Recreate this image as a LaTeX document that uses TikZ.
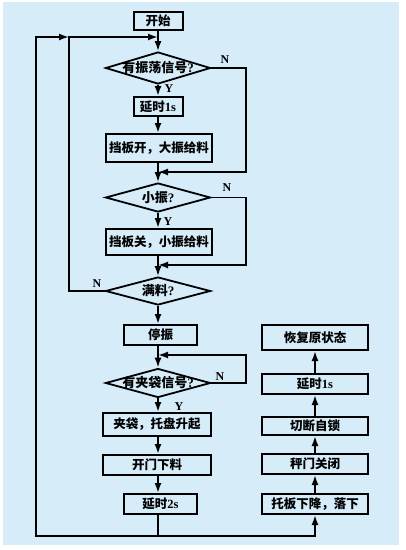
\documentclass[tikz,border=0pt]{standalone}
\usepackage{fontspec}
\setmainfont{Liberation Serif}
\newfontfamily\cjk{Noto Sans CJK SC}
\usetikzlibrary{shapes.geometric,arrows.meta}
\definecolor{bg}{RGB}{214,236,249}
\begin{document}
\begin{tikzpicture}[x=1pt,y=-1pt,
  txt/.style={font=\fontsize{12.5}{12.5}\selectfont\bfseries},
  box/.style={txt,draw,line width=2pt,inner sep=0pt,minimum height=20pt},
  dia/.style={draw,diamond,line width=1.8pt,inner sep=0pt,font=\fontsize{13}{13}\selectfont\bfseries},
  lbl/.style={font=\fontsize{12}{12}\selectfont\bfseries,inner sep=0pt},
  arr/.style={line width=1.8pt,-{Latex[length=10pt,width=7pt]}}]
\fill[bg] (3,2) rectangle (399,545);
\useasboundingbox (0,0) rectangle (406,550);
% left column
\node[box,minimum width=49pt,minimum height=18pt] (start) at (158,21) {{\cjk 开始}};
\node[dia,minimum width=105pt,minimum height=32pt] (d1) at (158,68) {\makebox[0pt]{{\cjk 有振荡信号}?}};
\node[box,minimum width=49pt,minimum height=19pt] (t1) at (158,106.5) {{\cjk 延时}1s};
\node[box,minimum width=106pt,minimum height=28pt] (b1) at (159,148) {{\cjk 挡板开，大振给料}};
\node[dia,minimum width=105pt,minimum height=29pt] (d2) at (158,197.5) {\makebox[0pt]{{\cjk 小振}?}};
\node[box,minimum width=106pt,minimum height=26pt] (b2) at (159,242) {{\cjk 挡板关，小振给料}};
\node[dia,minimum width=105pt,minimum height=28pt] (d3) at (158,291) {\makebox[0pt]{{\cjk 满料}?}};
\node[box,minimum width=73pt,minimum height=20pt] (stop) at (160.5,335) {{\cjk 停振}};
\node[dia,minimum width=105pt,minimum height=29pt] (d4) at (158,383) {\makebox[0pt]{{\cjk 有夹袋信号}?}};
\node[box,minimum width=108pt,minimum height=23pt] (b3) at (157,424.5) {{\cjk 夹袋，托盘升起}};
\node[box,minimum width=108pt,minimum height=20pt] (b4) at (157,465) {{\cjk 开门下料}};
\node[box,minimum width=73pt,minimum height=20pt] (t2) at (160.5,504) {{\cjk 延时}2s};
% right column
\node[box,minimum width=106pt,minimum height=25pt] (r1) at (315,337.5) {{\cjk 恢复原状态}};
\node[box,minimum width=106pt,minimum height=20pt] (r2) at (315,384) {{\cjk 延时}1s};
\node[box,minimum width=106pt,minimum height=18pt] (r3) at (315,426) {{\cjk 切断自锁}};
\node[box,minimum width=106pt,minimum height=20pt] (r4) at (315,464) {{\cjk 秤门关闭}};
\node[box,minimum width=106pt,minimum height=20pt] (r5) at (315,504) {{\cjk 托板下降，落下}};
% labels
\node[lbl] (n1) at (225,60) {N};
\node[lbl] (y1) at (169,89) {Y};
\node[lbl] (n2) at (227,188) {N};
\node[lbl] (y2) at (168,222) {Y};
\node[lbl] (n3) at (97,284) {N};
\node[lbl] (n4) at (220,377) {N};
\node[lbl] (y4) at (179,407) {Y};
% coordinates
\coordinate (c0) at (158,37);
\coordinate (c1) at (69,37);
\coordinate (c2) at (36,37);
\coordinate (c3) at (36,536);
\coordinate (c4) at (158,536);
\coordinate (c5) at (315,536);
\coordinate (R) at (246,0);
\coordinate (m1) at (158,172);
\coordinate (m2) at (158,265);
\coordinate (m3) at (158,355);
% main flow
\draw[arr] (start) -- (d1);
\draw[arr] (d1.south) -- (d1.south |- t1.north);
\draw[arr] (t1.south) -- (t1.south |- b1.north);
\draw[arr] (b1.south -| d2.north) -- (d2.north);
\draw[arr] (d2.south) -- (d2.south |- b2.north);
\draw[arr] (b2.south -| d3.north) -- (d3.north);
\draw[arr] (d3.south) -- (d3.south |- stop.north);
\draw[arr] (stop.south -| d4.north) -- (d4.north);
\draw[arr] (d4.south) -- (d4.south |- b3.north);
\draw[arr] (b3.south -| d4.south) -- (d4.south |- b4.north);
\draw[arr] (b4.south -| d4.south) -- (d4.south |- t2.north);
% N loops
\draw[arr] (d1.east) -- (d1.east -| R) -- (R |- m1) -- (m1);
\draw[arr] (d2.east) -- (d2.east -| R) -- (R |- m2) -- (m2);
\draw[arr] (d4.east) -- (d4.east -| R) -- (R |- m3) -- (m3);
\draw[arr] (d3.west) -- (d3.west -| c1) -- (c1) -- (c0);
% return path
\draw[arr] (c4 |- t2.south) -- (c4) -- (c3) -- (c2) -- (c1);
\draw[arr] (c4) -- (c5) -- (r5.south);
% right column
\draw[arr] (r5) -- (r4);
\draw[arr] (r4) -- (r3);
\draw[arr] (r3) -- (r2);
\draw[arr] (r2) -- (r1);
\end{tikzpicture}
\end{document}
